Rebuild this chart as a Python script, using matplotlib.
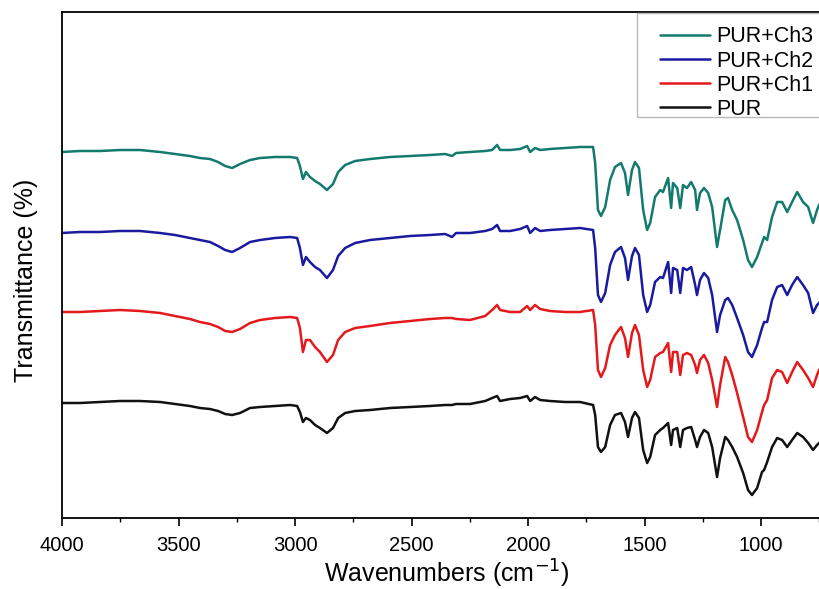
import numpy as np
import matplotlib
matplotlib.use("Agg")
import matplotlib.pyplot as plt
from matplotlib.ticker import MultipleLocator
from matplotlib.patches import Rectangle

plt.rcParams['font.family'] = ['Liberation Sans', 'DejaVu Sans']

# wavenumbers (cm-1)
wavenumber = [4000, 3923, 3837, 3751, 3665, 3579, 3515, 3451, 3408, 3365,
              3330, 3300, 3270, 3236, 3193, 3150, 3086, 3021, 2991, 2979,
              2966, 2953, 2936, 2914, 2893, 2863, 2837, 2815, 2785, 2742,
              2678, 2592, 2506, 2421, 2356, 2326, 2309, 2249, 2184, 2154,
              2133, 2120, 2077, 2034, 2004, 1991, 1970, 1948, 1906, 1841,
              1777, 1721, 1712, 1700, 1687, 1669, 1648, 1627, 1601, 1584,
              1571, 1554, 1541, 1524, 1506, 1489, 1476, 1455, 1433, 1421,
              1399, 1386, 1378, 1360, 1347, 1335, 1318, 1300, 1283, 1275,
              1262, 1245, 1227, 1210, 1189, 1176, 1154, 1142, 1124, 1103,
              1077, 1056, 1039, 1017, 996, 987, 974, 953, 931, 910,
              888, 867, 845, 820, 798, 777, 760, 751, 738]

# stacked transmittance (arbitrary units, offset curves)
pur_ch3 = [366, 367, 367, 368, 368, 366, 364, 362, 360, 359,
           356, 352, 350, 354, 358, 360, 361, 361, 360, 352,
           339, 346, 341, 337, 334, 328, 334, 346, 353, 357,
           359, 361, 362, 363, 364, 362, 365, 366, 367, 368,
           373, 368, 368, 369, 372, 366, 370, 368, 369, 370,
           371, 371, 355, 308, 302, 311, 338, 351, 355, 345,
           323, 348, 356, 350, 308, 288, 295, 321, 328, 326,
           340, 310, 335, 330, 310, 333, 330, 336, 328, 308,
           325, 330, 325, 311, 271, 288, 318, 320, 308, 298,
           278, 258, 251, 261, 275, 281, 278, 301, 316, 316,
           306, 316, 326, 316, 311, 295, 308, 313, 318]

pur_ch2 = [285, 286, 286, 287, 287, 285, 283, 280, 278, 276,
           272, 268, 266, 270, 276, 278, 280, 281, 280, 270,
           253, 261, 256, 251, 248, 240, 248, 262, 270, 275,
           278, 280, 282, 283, 284, 281, 285, 285, 287, 289,
           293, 287, 287, 289, 292, 285, 290, 287, 288, 289,
           290, 288, 270, 223, 216, 225, 253, 266, 271, 260,
           238, 262, 270, 263, 223, 206, 213, 236, 241, 240,
           256, 225, 250, 248, 225, 250, 248, 251, 233, 223,
           238, 245, 240, 223, 186, 203, 218, 220, 213, 200,
           183, 166, 161, 173, 190, 196, 196, 218, 231, 233,
           223, 233, 241, 233, 225, 205, 213, 215, 220]

pur_ch1 = [206, 206, 207, 208, 207, 205, 202, 199, 196, 194,
           191, 187, 186, 189, 195, 198, 200, 201, 200, 190,
           166, 178, 178, 171, 166, 156, 163, 178, 186, 190,
           192, 195, 197, 199, 200, 200, 199, 198, 202, 208,
           213, 208, 206, 206, 212, 208, 213, 209, 207, 206,
           206, 208, 193, 148, 141, 150, 173, 183, 191, 180,
           161, 185, 193, 183, 148, 131, 138, 161, 165, 166,
           175, 146, 166, 166, 143, 163, 165, 163, 153, 145,
           158, 163, 155, 138, 111, 133, 161, 156, 143, 125,
           101, 81, 76, 88, 106, 113, 118, 140, 148, 146,
           135, 146, 156, 148, 140, 131, 143, 148, 153]

pur = [115, 115, 116, 117, 117, 116, 114, 112, 110, 109,
       107, 104, 103, 105, 110, 111, 112, 113, 112, 106,
       96, 100, 98, 93, 90, 85, 90, 100, 105, 107,
       108, 110, 111, 112, 113, 113, 114, 114, 117, 120,
       122, 117, 119, 120, 122, 117, 121, 118, 117, 116,
       116, 113, 103, 71, 66, 71, 93, 103, 105, 96,
       81, 100, 106, 100, 68, 55, 61, 83, 88, 90,
       95, 73, 88, 90, 71, 88, 90, 91, 78, 71,
       81, 88, 85, 71, 41, 60, 81, 78, 71, 61,
       45, 28, 23, 30, 46, 48, 56, 71, 80, 78,
       71, 78, 85, 81, 75, 68, 73, 75, 78]

labels = ['PUR+Ch3', 'PUR+Ch2', 'PUR+Ch1', 'PUR']
colors = ['#137a6e', '#1a1aa0', '#e3191c', '#111111']
series = [pur_ch3, pur_ch2, pur_ch1, pur]

W, H = 819, 589
fig = plt.figure(figsize=(W / 100, H / 100), dpi=100)
# axes runs past the right edge of the picture, as in the original
ax = fig.add_axes([62 / W, 71 / H, 769 / W, 506 / H])

for vals, lab, col in zip(series, labels, colors):
    ax.plot(wavenumber, vals, color=col, lw=1.8, label=lab,
            solid_joinstyle='round', solid_capstyle='round')

ax.set_xlim(4000, 700)
ax.set_ylim(0, 506)
ax.set_yticks([])
ax.xaxis.set_major_locator(MultipleLocator(500))
ax.xaxis.set_minor_locator(MultipleLocator(250))
ax.tick_params(axis='x', which='major', direction='out', length=6, width=1.2,
               labelsize=14.5, pad=7)
ax.tick_params(axis='x', which='minor', direction='out', length=3, width=1.0)
for s in ax.spines.values():
    s.set_linewidth(1.3)

ax.set_xlabel('Wavenumbers (cm$^{-1}$)', fontsize=18)
ax.xaxis.set_label_coords(0.5, -0.078)
ax.set_ylabel('Transmittance (%)', fontsize=18)
ax.yaxis.set_label_coords(-0.031, 0.47)

# legend frame, cut by the right edge like the original
fig.patches.append(Rectangle((637 / W, 1 - 117 / H), 200 / W, 104 / H,
                             transform=fig.transFigure, fill=False,
                             edgecolor='#b8b8b8', lw=1.0, zorder=5))
leg = ax.legend(loc='upper left', bbox_to_anchor=(656 / W, 1 - 22 / H),
                bbox_transform=fig.transFigure, borderaxespad=0,
                fontsize=15.5, frameon=False, handlelength=2.3,
                handletextpad=0.3, labelspacing=0.15, borderpad=0.2)

fig.savefig('out.png', dpi=100)
